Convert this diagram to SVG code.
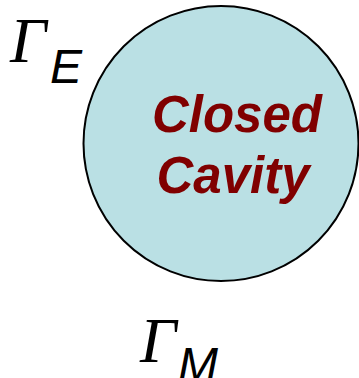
<svg xmlns="http://www.w3.org/2000/svg" width="359" height="378" viewBox="0 0 359 378">
<style>
.g{font-family:"Liberation Serif","Times New Roman",serif;font-style:italic;font-size:64px;fill:#000}
.s{font-family:"Liberation Sans",Arial,sans-serif;font-style:italic;font-size:48px;fill:#000}
.t{font-family:"Liberation Sans",Arial,sans-serif;font-style:italic;font-weight:bold;font-size:51px;fill:#800000;text-anchor:middle}
</style>
<g id="cavity">
<circle cx="221" cy="143.5" r="137.5" fill="#BAE0E4" stroke="#000" stroke-width="2"/>
<text class="t" x="237" y="132">Closed</text>
<text class="t" x="233" y="193">Cavity</text>
</g>
<g id="gammaE">
<text x="10" y="62"><tspan class="g">Γ</tspan><tspan class="s" x="50" y="83">E</tspan></text>
</g>
<g id="gammaM">
<text x="140" y="362"><tspan class="g">Γ</tspan><tspan class="s" x="178" y="381">M</tspan></text>
</g>
<g id="connectors"/>
</svg>
